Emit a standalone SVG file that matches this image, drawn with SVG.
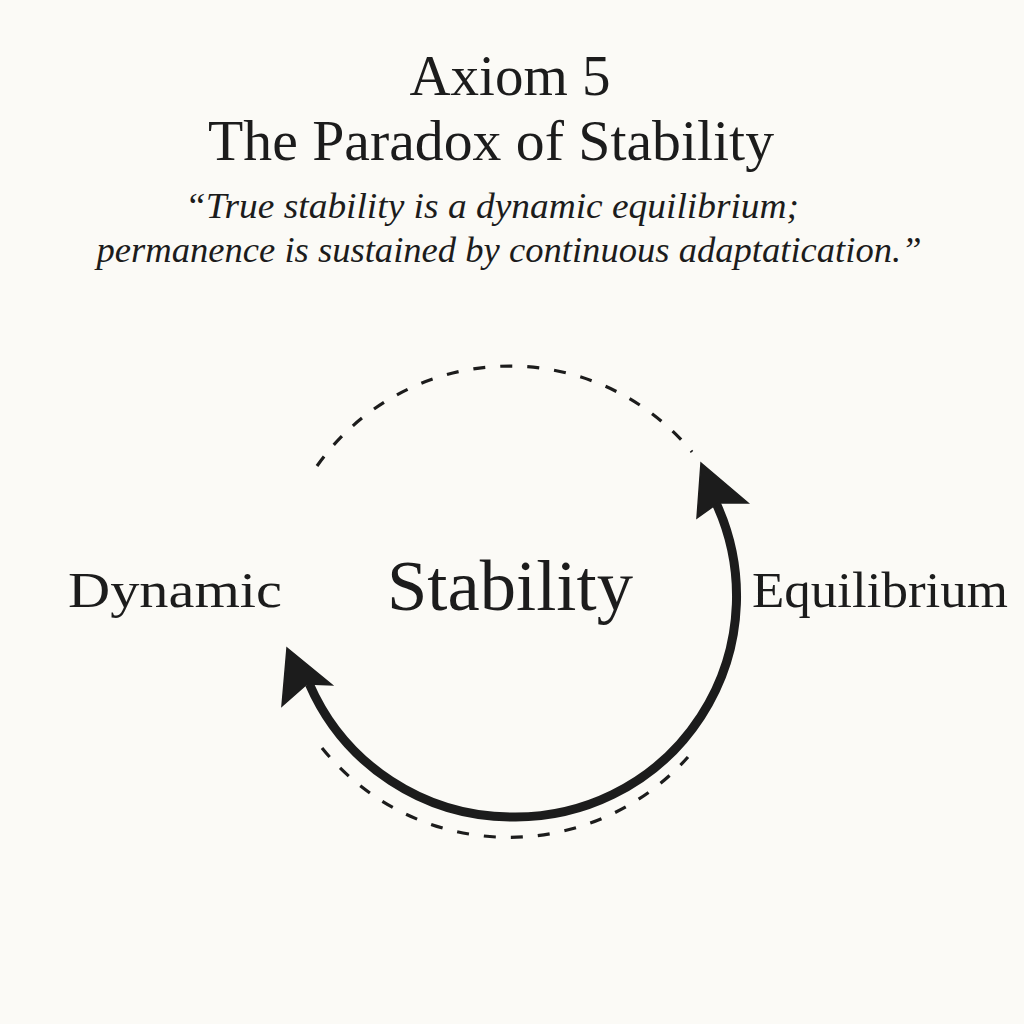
<svg xmlns="http://www.w3.org/2000/svg" width="1024" height="1024" viewBox="0 0 1024 1024">
<style>
.t{font-family:"Liberation Serif","Times New Roman",serif;fill:#1c1c1c;text-anchor:middle}
.q{font-family:"Liberation Serif","Times New Roman",serif;font-style:italic;fill:#1c1c1c;text-anchor:middle}
.dash{fill:none;stroke:#1c1c1c;stroke-width:3.2;stroke-dasharray:12 15}
.solid{fill:none;stroke:#1c1c1c;stroke-width:9;stroke-linecap:butt}
.head{fill:#1c1c1c;stroke:#1c1c1c;stroke-width:1.5;stroke-linejoin:miter}
</style>
<rect width="1024" height="1024" fill="#fbfaf6"/>
<g id="title">
<text class="t" x="510" y="95" font-size="57">Axiom 5</text>
<text class="t" x="491" y="160" font-size="57" textLength="566" lengthAdjust="spacingAndGlyphs">The Paradox of Stability</text>
</g>
<g id="quote">
<text class="q" x="492" y="218" font-size="36" textLength="614" lengthAdjust="spacingAndGlyphs">“True stability is a dynamic equilibrium;</text>
<text class="q" x="509" y="262" font-size="36" textLength="825" lengthAdjust="spacingAndGlyphs">permanence is sustained by continuous adaptatication.”</text>
</g>
<g id="connectors">
<path class="dash" d="M 317 466 A 236 236 0 0 1 692 452"/>
<path class="dash" d="M 322 748 A 240 240 0 0 0 688 757"/>
<path class="solid" d="M 716 503 A 221 221 0 0 1 512 817 A 221 221 0 0 1 309.3 684"/>
<polygon class="head" points="701,463 748,503 718,503 697,518"/>
<polygon class="head" points="287,648 332,685 307,684 282,706"/>
</g>
<g id="node-stability">
<text class="t" x="510" y="610" font-size="72" textLength="246" lengthAdjust="spacingAndGlyphs">Stability</text>
</g>
<g id="node-dynamic">
<text class="t" x="175" y="607" font-size="51" textLength="214" lengthAdjust="spacingAndGlyphs">Dynamic</text>
</g>
<g id="node-equilibrium">
<text class="t" x="880" y="607" font-size="51" textLength="256" lengthAdjust="spacingAndGlyphs">Equilibrium</text>
</g>
</svg>
